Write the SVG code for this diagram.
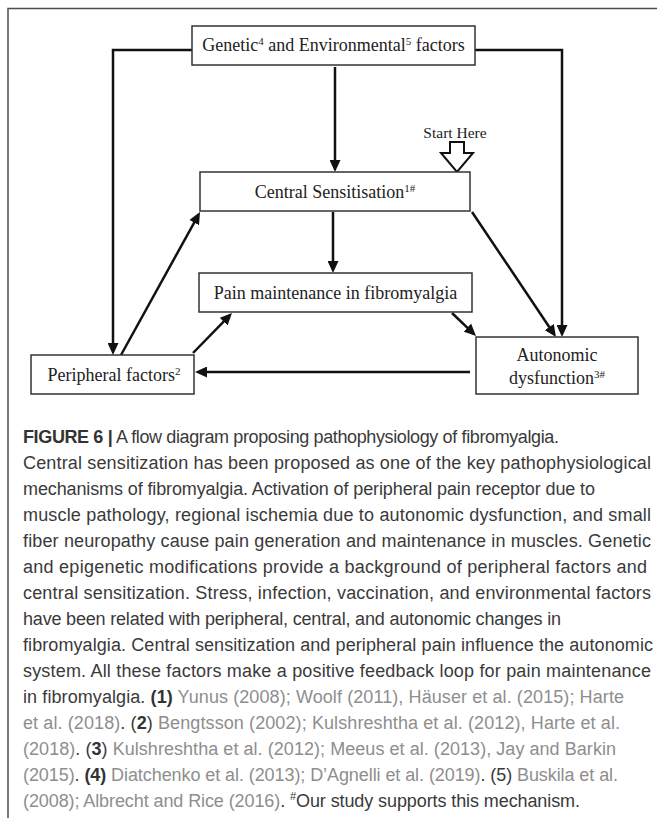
<svg xmlns="http://www.w3.org/2000/svg" width="657" height="818" viewBox="0 0 657 818">
<style>
.frame{fill:none;stroke:#4d4d4d;stroke-width:1.5}
.box{fill:#fff;stroke:#333;stroke-width:1.5}
.lbl{font-family:"Liberation Serif","Times New Roman",serif;font-size:18px;fill:#222;text-anchor:middle}
.sup{font-size:11px}
.con{fill:none;stroke:#111;stroke-width:2.5}
.cap{font-family:"Liberation Sans",Arial,sans-serif;font-size:18px;fill:#3a3a3a}
.ref{fill:#8e8e8e}
.b{font-weight:bold;fill:#333}
</style>
<defs>
<marker id="ah" viewBox="0 0 12 11" refX="6" refY="5.5" markerWidth="12" markerHeight="11" markerUnits="userSpaceOnUse" orient="auto">
<path d="M0,0 L12,5.5 L0,11 z" fill="#111"/>
</marker>
</defs>
<path class="frame" d="M8,818 V8.5 H657"/>
<g id="connectors">
<path class="con" d="M192,50 H113 V349" marker-end="url(#ah)"/>
<path class="con" d="M475,50 H562 V331" marker-end="url(#ah)"/>
<path class="con" d="M335,67 V166" marker-end="url(#ah)"/>
<path class="con" d="M333,212 V267" marker-end="url(#ah)"/>
<path class="con" d="M472,212 L552.6,332" marker-end="url(#ah)"/>
<path class="con" d="M452,313 L471.7,331.8" marker-end="url(#ah)"/>
<path class="con" d="M470,372 H201" marker-end="url(#ah)"/>
<path class="con" d="M121,355 L197.1,217.3" marker-end="url(#ah)"/>
<path class="con" d="M193,353 L227.8,317.3" marker-end="url(#ah)"/>
</g>
<g id="genetic">
<rect class="box" x="192" y="26" width="283" height="39"/>
<text class="lbl" x="333.5" y="51">Genetic<tspan class="sup" dy="-6">4</tspan><tspan dy="6"> and Environmental</tspan><tspan class="sup" dy="-6">5</tspan><tspan dy="6"> factors</tspan></text>
</g>
<g id="start-here">
<text class="lbl" x="455" y="138" style="font-size:15.5px">Start Here</text>
<path d="M450,142 H464 V153 H473 L457,172 L441,153 H450 Z" fill="#fff" stroke="#111" stroke-width="2"/>
</g>
<g id="central">
<rect class="box" x="200" y="172" width="270" height="39"/>
<text class="lbl" x="335" y="197.5">Central Sensitisation<tspan class="sup" dy="-6">1#</tspan></text>
</g>
<g id="pain">
<rect class="box" x="199" y="273" width="273" height="39"/>
<text class="lbl" x="335.5" y="298.5">Pain maintenance in fibromyalgia</text>
</g>
<g id="peripheral">
<rect class="box" x="31" y="355" width="163" height="39"/>
<text class="lbl" x="114" y="380.5">Peripheral factors<tspan class="sup" dy="-6">2</tspan></text>
</g>
<g id="autonomic">
<rect class="box" x="476" y="337" width="162" height="57"/>
<text class="lbl" x="557" y="361">Autonomic</text>
<text class="lbl" x="557" y="384">dysfunction<tspan class="sup" dy="-6">3#</tspan></text>
</g>
<g id="caption">
<text class="cap" x="23" y="443" textLength="536" lengthAdjust="spacing"><tspan class="b">FIGURE 6 |</tspan> A flow diagram proposing pathophysiology of fibromyalgia.</text>
<text class="cap" x="23" y="469" textLength="628" lengthAdjust="spacing">Central sensitization has been proposed as one of the key pathophysiological</text>
<text class="cap" x="23" y="495" textLength="572" lengthAdjust="spacing">mechanisms of fibromyalgia. Activation of peripheral pain receptor due to</text>
<text class="cap" x="23" y="521" textLength="628" lengthAdjust="spacing">muscle pathology, regional ischemia due to autonomic dysfunction, and small</text>
<text class="cap" x="23" y="547" textLength="628" lengthAdjust="spacing">fiber neuropathy cause pain generation and maintenance in muscles. Genetic</text>
<text class="cap" x="23" y="573" textLength="624" lengthAdjust="spacing">and epigenetic modifications provide a background of peripheral factors and</text>
<text class="cap" x="23" y="599" textLength="628" lengthAdjust="spacing">central sensitization. Stress, infection, vaccination, and environmental factors</text>
<text class="cap" x="23" y="625" textLength="538" lengthAdjust="spacing">have been related with peripheral, central, and autonomic changes in</text>
<text class="cap" x="23" y="651" textLength="630" lengthAdjust="spacing">fibromyalgia. Central sensitization and peripheral pain influence the autonomic</text>
<text class="cap" x="23" y="677" textLength="628" lengthAdjust="spacing">system. All these factors make a positive feedback loop for pain maintenance</text>
<text class="cap" x="23" y="703" textLength="601" lengthAdjust="spacing">in fibromyalgia. <tspan class="b">(1)</tspan><tspan class="ref"> Yunus (2008); Woolf (2011), Häuser et al. (2015); Harte</tspan></text>
<text class="cap" x="23" y="729" textLength="597" lengthAdjust="spacing"><tspan class="ref">et al. (2018)</tspan>. (<tspan class="b">2</tspan>) <tspan class="ref">Bengtsson (2002); Kulshreshtha et al. (2012), Harte et al.</tspan></text>
<text class="cap" x="23" y="755" textLength="593" lengthAdjust="spacing"><tspan class="ref">(2018)</tspan>. (<tspan class="b">3</tspan>) <tspan class="ref">Kulshreshtha et al. (2012); Meeus et al. (2013), Jay and Barkin</tspan></text>
<text class="cap" x="23" y="781" textLength="595" lengthAdjust="spacing"><tspan class="ref">(2015)</tspan>. <tspan class="b">(4)</tspan><tspan class="ref"> Diatchenko et al. (2013); D’Agnelli et al. (2019)</tspan>. (5) <tspan class="ref">Buskila et al.</tspan></text>
<text class="cap" x="23" y="807" textLength="557" lengthAdjust="spacing"><tspan class="ref">(2008); Albrecht and Rice (2016)</tspan>. <tspan style="font-size:11px" dy="-7">#</tspan><tspan dy="7">Our study supports this mechanism.</tspan></text>
</g>
</svg>
